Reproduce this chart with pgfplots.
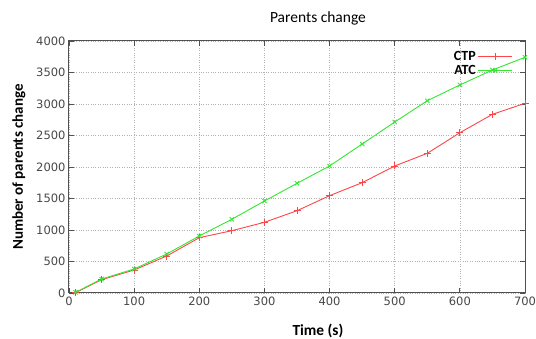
\documentclass[border=0pt]{standalone}
\usepackage{fontspec}
\setmainfont{Carlito}
\newfontfamily\tickfont{DejaVu Sans}
\usepackage{pgfplots}
\pgfplotsset{compat=1.18}
\definecolor{ctp}{RGB}{255,70,70}
\definecolor{atc}{RGB}{50,230,50}
\definecolor{axgray}{RGB}{80,80,80}
\begin{document}
\begin{tikzpicture}
\begin{axis}[
  scale only axis,
  width=456pt, height=252pt,
  xmin=0, xmax=700, ymin=0, ymax=4000,
  xtick={0,100,...,700}, ytick={0,500,...,4000},
  tick align=inside,
  major tick length=5pt,
  axis line style={axgray, line width=1pt},
  every tick/.style={axgray, line width=0.8pt},
  grid=major,
  major grid style={gray!60, dotted, line width=0.6pt},
  tick label style={font=\tickfont\fontsize{11.5}{12}\selectfont, text=black!72},
  /pgf/number format/assume math mode=true,
  /pgf/number format/1000 sep={},
  title={Parents change},
  title style={font=\fontsize{15.5}{17}\selectfont, at={(rel axis cs:0.546,1)}, anchor=south, yshift=6pt},
  xlabel={\textbf{Time (s)}},
  xlabel style={font=\fontsize{15.4}{17}\selectfont, at={(rel axis cs:0.546,0)}, anchor=north, yshift=-28pt},
  ylabel={\textbf{Number of parents change}},
  ylabel style={font=\fontsize{15}{17}\selectfont, yshift=4pt},
  legend style={draw=none, fill=none, at={(rel axis cs:0.98,0.975)}, anchor=north east,
    font=\bfseries\fontsize{14}{15}\selectfont, legend cell align=right, row sep=-1pt},
  legend plot pos=right,
  legend image code/.code={\draw[mark repeat=2, mark phase=2] plot coordinates {(0pt,0pt) (17pt,0pt) (34pt,0pt)};},
]
\addplot[color=ctp, line width=0.9pt, mark=+, mark size=3.5pt, mark options={solid}] coordinates {
(10,5) (50,211) (100,365) (150,587) (200,878) (250,989) (300,1122) (350,1306) (400,1545) (450,1751) (500,2016) (550,2217) (600,2544) (650,2836) (700,3011)};
\addlegendentry{CTP}
\addplot[color=atc, line width=0.9pt, mark=x, mark size=3pt, mark options={solid}] coordinates {
(10,10) (50,222) (100,381) (150,619) (200,905) (250,1170) (300,1460) (350,1741) (400,2016) (450,2365) (500,2714) (550,3052) (600,3302) (650,3540) (700,3741)};
\addlegendentry{ATC}
\coordinate (ll) at (rel axis cs:0,0);
\coordinate (ur) at (rel axis cs:1,1);
\end{axis}
\pgfresetboundingbox
\useasboundingbox ([shift={(-69pt,-46pt)}]ll) rectangle ([shift={(11pt,41pt)}]ur);
\end{tikzpicture}
\end{document}
